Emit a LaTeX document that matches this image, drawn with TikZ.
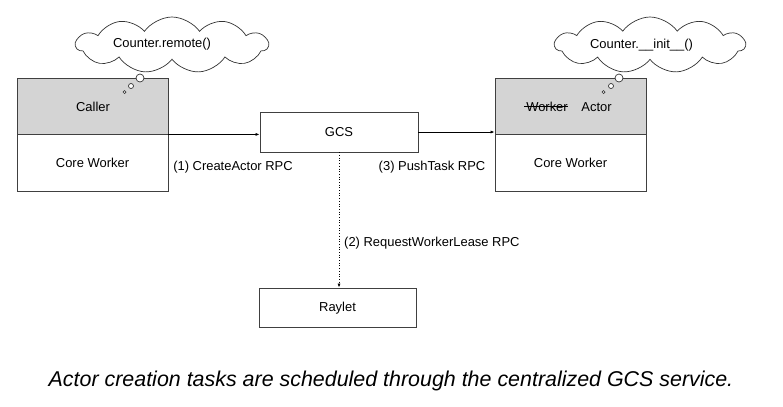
\documentclass[tikz,border=0pt]{standalone}
\usepackage{fontspec}
\setmainfont{Liberation Sans}
\usetikzlibrary{shapes.symbols,arrows.meta}
\begin{document}
\begin{tikzpicture}[x=1bp,y=-1bp,
  box/.style={draw=black!75,line width=0.8bp,rectangle,inner sep=0pt},
  lbl/.style={font=\fontsize{13}{15}\selectfont,inner sep=0pt},
  thought/.style={cloud,cloud puffs=11,cloud puff arc=110,cloud ignores aspect,draw=black!80,line width=0.7bp,fill=white,inner sep=0pt},
  bub/.style={draw=black!80,line width=0.7bp,fill=white,circle,inner sep=0pt},
  conn/.style={line width=0.7bp,-{Latex[length=4bp,width=3bp]}}]
\useasboundingbox (0,0) rectangle (783,406);
% clouds
\node[thought,minimum width=192bp,minimum height=56bp] (c1) at (172,45) {};
\node[lbl] (c1t) at (162,44) {Counter.remote()};
\node[thought,minimum width=190bp,minimum height=56bp] (c2) at (650,45) {};
\node[lbl] (c2t) at (641.5,45) {Counter.\_\_init\_\_()};
% left stack
\node[box,fill=black!17,minimum width=151bp,minimum height=56bp] (caller) at (92.5,106) {};
\node[box,minimum width=151bp,minimum height=57bp] (cw1) at (92.5,162.5) {};
\node[lbl] (callert) at (93,107) {Caller};
\node[lbl] (cw1t) at (92.5,163) {Core Worker};
% right stack
\node[box,fill=black!17,minimum width=151bp,minimum height=56bp] (actor) at (570.5,106) {};
\node[box,minimum width=151bp,minimum height=57bp] (cw2) at (570.5,162.5) {};
\node[lbl] (workert) at (547,107) {Worker};
\node[lbl] (actort) at (596.5,107) {Actor};
\draw[line width=0.8bp] ([xshift=-2bp]workert.west |- 0,106) coordinate (s1) -- (workert.east |- 0,106) coordinate (s2);
\node[lbl] (cw2t) at (570.5,163) {Core Worker};
% GCS and Raylet
\node[box,minimum width=158bp,minimum height=40bp] (gcs) at (339,132) {};
\node[lbl] (gcst) at (339,132) {GCS};
\node[box,minimum width=157bp,minimum height=39bp] (raylet) at (337.5,307.5) {};
\node[lbl] (raylett) at (337.5,308) {Raylet};
% thought bubbles
\node[bub,minimum size=8bp] (b1) at (140,78) {};
\node[bub,minimum size=5bp] (b2) at (131,86) {};
\node[bub,minimum size=3bp] (b3) at (124.5,92) {};
\node[bub,minimum size=8bp] (b4) at (619,78) {};
\node[bub,minimum size=5bp] (b5) at (611,86) {};
\node[bub,minimum size=3bp] (b6) at (603.5,92) {};
% connectors
\draw[conn] (caller.south east) -- (gcs.west |- caller.south east);
\draw[conn] (gcs.east) -- (actor.south west |- gcs.east);
\draw[conn,dotted] (gcs.south) -- (raylet.north -| gcs.south);
% labels
\node[lbl] (l1) at (233,167) {(1) CreateActor RPC};
\node[lbl] (l3) at (432,167) {(3) PushTask RPC};
\node[lbl,anchor=west] (l2) at (344,243) {(2) RequestWorkerLease RPC};
% caption
\node[font=\itshape\fontsize{21.5}{25}\selectfont,inner sep=0pt] (cap) at (391,381) {Actor creation tasks are scheduled through the centralized GCS service.};
\end{tikzpicture}
\end{document}
